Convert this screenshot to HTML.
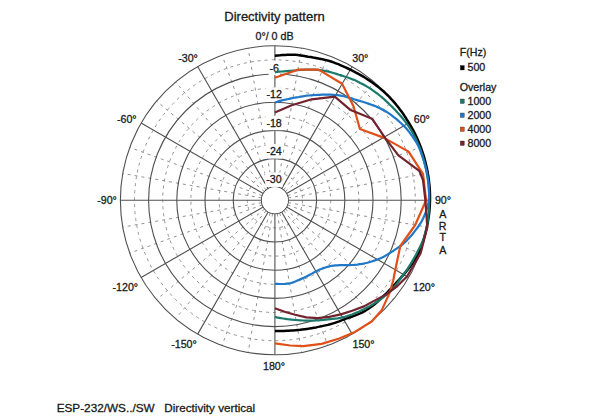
<!DOCTYPE html>
<html><head><meta charset="utf-8">
<style>
html,body{margin:0;padding:0;background:#fff;}
body{width:600px;height:419px;overflow:hidden;position:relative;font-family:"Liberation Sans",sans-serif;color:#222;}
svg{position:absolute;left:0;top:0;}
.s{fill:none;stroke:#505050;stroke-width:1.1;}
.d{fill:none;stroke:#929292;stroke-width:1;stroke-dasharray:3 4;}
.c{fill:none;stroke-width:2.2;stroke-linejoin:round;stroke-linecap:butt;}
.t{font-family:"Liberation Sans",sans-serif;fill:#1a1a1a;stroke:#1a1a1a;stroke-width:0.3;}
</style></head><body>
<svg width="600" height="419" viewBox="0 0 600 419">
<circle cx="274.9" cy="200.3" r="27.60" class="d"/>
<circle cx="274.9" cy="200.3" r="55.80" class="d"/>
<circle cx="274.9" cy="200.3" r="84.00" class="d"/>
<circle cx="274.9" cy="200.3" r="112.20" class="d"/>
<circle cx="274.9" cy="200.3" r="140.40" class="d"/>
<line x1="277.24" y1="187.01" x2="301.73" y2="48.15" class="d"/>
<line x1="279.52" y1="187.61" x2="327.74" y2="55.12" class="d"/>
<line x1="283.58" y1="189.96" x2="374.21" y2="81.95" class="d"/>
<line x1="285.24" y1="191.62" x2="393.25" y2="100.99" class="d"/>
<line x1="287.59" y1="195.68" x2="420.08" y2="147.46" class="d"/>
<line x1="288.19" y1="197.96" x2="427.05" y2="173.47" class="d"/>
<line x1="288.19" y1="202.64" x2="427.05" y2="227.13" class="d"/>
<line x1="287.59" y1="204.92" x2="420.08" y2="253.14" class="d"/>
<line x1="285.24" y1="208.98" x2="393.25" y2="299.61" class="d"/>
<line x1="283.58" y1="210.64" x2="374.21" y2="318.65" class="d"/>
<line x1="279.52" y1="212.99" x2="327.74" y2="345.48" class="d"/>
<line x1="277.24" y1="213.59" x2="301.73" y2="352.45" class="d"/>
<line x1="272.56" y1="213.59" x2="248.07" y2="352.45" class="d"/>
<line x1="270.28" y1="212.99" x2="222.06" y2="345.48" class="d"/>
<line x1="266.22" y1="210.64" x2="175.59" y2="318.65" class="d"/>
<line x1="264.56" y1="208.98" x2="156.55" y2="299.61" class="d"/>
<line x1="262.21" y1="204.92" x2="129.72" y2="253.14" class="d"/>
<line x1="261.61" y1="202.64" x2="122.75" y2="227.13" class="d"/>
<line x1="261.61" y1="197.96" x2="122.75" y2="173.47" class="d"/>
<line x1="262.21" y1="195.68" x2="129.72" y2="147.46" class="d"/>
<line x1="264.56" y1="191.62" x2="156.55" y2="100.99" class="d"/>
<line x1="266.22" y1="189.96" x2="175.59" y2="81.95" class="d"/>
<line x1="270.28" y1="187.61" x2="222.06" y2="55.12" class="d"/>
<line x1="272.56" y1="187.01" x2="248.07" y2="48.15" class="d"/>
<circle cx="274.9" cy="200.3" r="13.50" class="s"/>
<circle cx="274.9" cy="200.3" r="41.70" class="s"/>
<circle cx="274.9" cy="200.3" r="69.90" class="s"/>
<circle cx="274.9" cy="200.3" r="98.10" class="s"/>
<circle cx="274.9" cy="200.3" r="126.30" class="s"/>
<circle cx="274.9" cy="200.3" r="154.50" class="s"/>
<line x1="274.90" y1="186.80" x2="274.90" y2="45.80" class="s"/>
<line x1="281.65" y1="188.61" x2="352.15" y2="66.50" class="s"/>
<line x1="286.59" y1="193.55" x2="408.70" y2="123.05" class="s"/>
<line x1="288.40" y1="200.30" x2="429.40" y2="200.30" class="s"/>
<line x1="286.59" y1="207.05" x2="408.70" y2="277.55" class="s"/>
<line x1="281.65" y1="211.99" x2="352.15" y2="334.10" class="s"/>
<line x1="274.90" y1="213.80" x2="274.90" y2="354.80" class="s"/>
<line x1="268.15" y1="211.99" x2="197.65" y2="334.10" class="s"/>
<line x1="263.21" y1="207.05" x2="141.10" y2="277.55" class="s"/>
<line x1="261.40" y1="200.30" x2="120.40" y2="200.30" class="s"/>
<line x1="263.21" y1="193.55" x2="141.10" y2="123.05" class="s"/>
<line x1="268.15" y1="188.61" x2="197.65" y2="66.50" class="s"/>
<circle cx="274.9" cy="200.3" r="13.0" fill="#fff"/>
<rect x="268.6" y="60.5" width="11.5" height="14.5" fill="#fff"/>
<text x="274.3" y="71.5" text-anchor="middle" class="t" font-size="10.67">-6</text>
<rect x="265.4" y="87.4" width="17.5" height="14.5" fill="#fff"/>
<text x="274.2" y="98.4" text-anchor="middle" class="t" font-size="10.67">-12</text>
<rect x="265.4" y="115.7" width="17.5" height="14.5" fill="#fff"/>
<text x="274.1" y="126.7" text-anchor="middle" class="t" font-size="10.67">-18</text>
<rect x="265.4" y="144.1" width="17.5" height="14.5" fill="#fff"/>
<text x="274.1" y="155.1" text-anchor="middle" class="t" font-size="10.67">-24</text>
<rect x="265.2" y="172.4" width="17.5" height="14.5" fill="#fff"/>
<text x="274.0" y="183.4" text-anchor="middle" class="t" font-size="10.67">-30</text>
<path d="M274.9,55.8 L277.4,55.5 L280.0,55.3 L282.5,55.0 L285.1,54.9 L287.6,54.8 L290.2,54.7 L292.8,54.7 L295.3,54.8 L297.9,55.0 L300.5,55.4 L303.0,55.8 L305.5,56.2 L308.1,56.7 L310.6,57.1 L313.1,57.6 L315.7,58.0 L318.3,58.4 L320.8,58.9 L323.4,59.5 L325.9,60.1 L328.5,60.8 L331.0,61.5 L333.5,62.4 L335.9,63.3 L338.3,64.2 L340.8,65.3 L343.2,66.3 L345.6,67.4 L347.9,68.5 L350.3,69.7 L352.7,70.9 L355.0,72.1 L357.4,73.3 L359.7,74.6 L362.0,75.9 L364.3,77.3 L366.5,78.7 L368.8,80.1 L371.0,81.6 L373.2,83.2 L375.3,84.8 L377.5,86.4 L379.6,88.1 L381.6,89.8 L383.7,91.5 L385.6,93.4 L387.6,95.2 L389.5,97.1 L391.3,99.1 L393.2,101.1 L394.9,103.1 L396.6,105.2 L398.3,107.3 L399.9,109.4 L401.5,111.6 L403.1,113.8 L404.6,116.1 L406.1,118.3 L407.5,120.6 L408.9,122.9 L410.3,125.2 L411.7,127.6 L413.0,129.9 L414.3,132.3 L415.5,134.7 L416.7,137.2 L417.8,139.7 L418.8,142.2 L419.8,144.7 L420.8,147.2 L421.7,149.8 L422.6,152.3 L423.4,154.9 L424.2,157.5 L424.9,160.1 L425.6,162.7 L426.2,165.4 L426.8,168.0 L427.4,170.7 L427.8,173.3 L428.3,176.0 L428.7,178.7 L429.0,181.4 L429.3,184.1 L429.6,186.8 L429.8,189.5 L429.9,192.2 L430.0,194.9 L430.0,197.6 L430.0,200.3 L429.9,203.0 L429.8,205.7 L429.6,208.4 L429.4,211.1 L429.1,213.8 L428.7,216.5 L428.3,219.1 L427.9,221.8 L427.4,224.5 L426.8,227.1 L426.2,229.7 L425.6,232.3 L424.9,234.9 L424.2,237.5 L423.4,240.1 L422.6,242.6 L421.7,245.2 L420.8,247.7 L419.9,250.2 L418.8,252.7 L417.7,255.1 L416.5,257.5 L415.1,259.8 L413.6,262.0 L411.9,264.2 L410.3,266.3 L408.6,268.4 L407.0,270.5 L405.3,272.6 L403.6,274.6 L401.8,276.6 L400.1,278.5 L398.3,280.5 L396.6,282.4 L394.9,284.3 L393.1,286.2 L391.4,288.1 L389.6,289.9 L387.9,291.8 L386.1,293.6 L384.2,295.4 L382.4,297.1 L380.6,298.9 L378.8,300.6 L376.9,302.3 L374.9,303.9 L373.0,305.4 L370.9,307.0 L368.9,308.4 L366.8,309.8 L364.7,311.1 L362.4,312.3 L360.1,313.4 L357.8,314.4 L355.4,315.3 L353.1,316.2 L350.7,317.0 L348.3,317.8 L346.0,318.7 L343.8,319.6 L341.5,320.4 L339.2,321.3 L337.0,322.1 L334.7,322.9 L332.4,323.6 L330.1,324.3 L327.8,324.9 L325.5,325.4 L323.1,325.9 L320.8,326.4 L318.5,326.9 L316.2,327.4 L313.9,327.8 L311.6,328.2 L309.3,328.6 L307.0,328.9 L304.7,329.2 L302.4,329.5 L300.1,329.8 L297.8,330.0 L295.5,330.2 L293.2,330.4 L290.9,330.5 L288.6,330.7 L286.3,330.8 L284.0,330.9 L281.7,331.0 L279.5,331.0 L277.2,331.0 L274.9,330.9" stroke="#000000" class="c" style="stroke-width:2.5"/>
<path d="M274.9,72.3 L277.1,72.0 L279.4,71.7 L281.7,71.5 L283.9,71.3 L286.2,71.1 L288.5,70.9 L290.8,70.8 L293.1,70.6 L295.5,70.4 L297.9,70.1 L300.2,69.9 L302.6,69.8 L305.1,69.7 L307.5,69.6 L309.9,69.6 L312.4,69.6 L314.8,69.7 L317.3,69.9 L319.7,70.1 L322.2,70.4 L324.6,70.8 L327.0,71.3 L329.4,71.9 L331.8,72.5 L334.2,73.2 L336.5,73.9 L338.9,74.7 L341.3,75.4 L343.7,76.2 L346.1,77.0 L348.5,77.8 L350.9,78.7 L353.3,79.6 L355.6,80.6 L357.9,81.7 L360.2,82.9 L362.5,84.0 L364.8,85.3 L367.0,86.6 L369.2,87.9 L371.4,89.3 L373.5,90.8 L375.6,92.3 L377.7,93.9 L379.7,95.5 L381.7,97.1 L383.7,98.8 L385.6,100.6 L387.5,102.4 L389.4,104.2 L391.3,106.0 L393.2,107.9 L395.0,109.8 L396.8,111.7 L398.6,113.7 L400.4,115.7 L402.1,117.7 L403.8,119.8 L405.4,121.9 L407.0,124.0 L408.5,126.2 L410.0,128.5 L411.4,130.7 L412.8,133.1 L414.0,135.4 L415.3,137.8 L416.4,140.2 L417.5,142.7 L418.6,145.1 L419.6,147.6 L420.6,150.1 L421.5,152.7 L422.3,155.2 L423.1,157.8 L423.8,160.4 L424.5,163.0 L425.2,165.6 L425.8,168.2 L426.3,170.9 L426.8,173.5 L427.3,176.2 L427.7,178.8 L428.1,181.5 L428.4,184.2 L428.6,186.9 L428.8,189.5 L429.0,192.2 L429.1,194.9 L429.2,197.6 L429.2,200.3 L429.2,203.0 L429.1,205.7 L429.0,208.4 L428.8,211.1 L428.6,213.7 L428.3,216.4 L428.0,219.1 L427.6,221.8 L427.2,224.4 L426.7,227.1 L426.2,229.7 L425.6,232.3 L424.9,234.9 L424.1,237.5 L423.2,240.0 L422.1,242.5 L420.9,244.9 L419.7,247.4 L418.5,249.8 L417.3,252.1 L416.1,254.5 L414.8,256.8 L413.5,259.1 L412.2,261.4 L410.8,263.7 L409.4,265.9 L408.0,268.1 L406.5,270.3 L405.0,272.4 L403.5,274.5 L402.0,276.7 L400.5,278.8 L398.9,280.8 L397.4,282.9 L395.8,284.9 L394.1,286.9 L392.4,288.9 L390.7,290.8 L388.8,292.6 L386.9,294.3 L384.9,296.0 L382.9,297.6 L380.8,299.1 L378.7,300.6 L376.6,302.0 L374.4,303.4 L372.2,304.7 L370.0,306.0 L367.8,307.2 L365.6,308.4 L363.3,309.5 L361.1,310.6 L358.8,311.7 L356.5,312.6 L354.2,313.6 L351.9,314.5 L349.6,315.3 L347.2,316.1 L344.9,316.8 L342.5,317.4 L340.1,317.9 L337.7,318.3 L335.2,318.6 L332.7,318.9 L330.3,319.1 L327.9,319.4 L325.6,319.7 L323.2,320.0 L320.9,320.2 L318.6,320.4 L316.3,320.5 L314.0,320.6 L311.7,320.7 L309.4,320.7 L307.1,320.6 L304.9,320.6 L302.6,320.5 L300.4,320.3 L298.2,320.2 L296.0,320.0 L293.8,319.8 L291.7,319.6 L289.5,319.3 L287.4,319.1 L285.3,318.8 L283.2,318.5 L281.1,318.2 L279.0,317.8 L276.9,317.4 L274.9,316.9" stroke="#1b7a6c" class="c"/>
<path d="M274.9,102.6 L276.6,102.0 L278.4,101.4 L280.1,100.9 L281.9,100.4 L283.7,100.0 L285.5,99.6 L287.3,99.2 L289.2,98.8 L291.0,98.4 L292.9,98.0 L294.8,97.7 L296.8,97.3 L298.8,97.0 L300.8,96.6 L302.8,96.3 L304.8,96.0 L306.9,95.7 L309.0,95.5 L311.1,95.3 L313.2,95.1 L315.3,95.0 L317.5,94.9 L319.7,94.8 L321.9,94.7 L324.1,94.7 L326.4,94.7 L328.7,94.7 L331.0,94.7 L333.4,94.8 L335.7,95.0 L338.0,95.2 L340.3,95.6 L342.6,96.0 L344.9,96.5 L347.2,97.1 L349.4,97.7 L351.7,98.4 L353.9,99.2 L356.2,99.9 L358.6,100.6 L361.0,101.3 L363.4,102.0 L365.8,102.8 L368.3,103.6 L370.7,104.5 L373.2,105.4 L375.7,106.3 L378.1,107.4 L380.5,108.5 L382.9,109.7 L385.2,111.0 L387.4,112.4 L389.6,113.9 L391.7,115.4 L393.8,117.1 L395.9,118.7 L397.9,120.4 L399.9,122.2 L401.9,124.0 L403.8,125.9 L405.7,127.8 L407.4,129.8 L409.1,131.9 L410.7,134.1 L412.3,136.2 L413.8,138.5 L415.2,140.7 L416.7,143.0 L418.0,145.4 L419.1,147.8 L420.2,150.3 L421.1,152.8 L422.0,155.3 L422.8,157.9 L423.7,160.4 L424.5,163.0 L425.2,165.6 L425.9,168.2 L426.6,170.8 L427.1,173.5 L427.6,176.1 L428.0,178.8 L428.4,181.5 L428.7,184.1 L428.9,186.8 L429.0,189.5 L429.1,192.2 L429.1,194.9 L429.0,197.6 L428.7,200.3 L428.3,203.0 L427.7,205.6 L427.0,208.3 L426.2,210.9 L425.3,213.5 L424.2,216.0 L423.1,218.5 L421.8,221.0 L420.4,223.4 L418.9,225.7 L417.3,228.0 L415.6,230.2 L413.9,232.4 L412.2,234.5 L410.4,236.6 L408.6,238.6 L406.7,240.6 L404.7,242.5 L402.6,244.3 L400.4,246.0 L398.1,247.6 L395.8,249.2 L393.6,250.7 L391.3,252.1 L389.1,253.5 L386.8,254.9 L384.6,256.2 L382.2,257.4 L379.8,258.5 L377.4,259.5 L374.9,260.4 L372.4,261.2 L369.9,262.0 L367.4,262.7 L364.8,263.3 L362.3,263.8 L359.8,264.2 L357.2,264.6 L354.6,264.8 L352.0,265.0 L349.4,265.1 L346.9,265.1 L344.5,265.2 L342.1,265.2 L339.8,265.2 L337.6,265.3 L335.6,265.4 L333.7,265.6 L331.9,265.8 L330.2,266.2 L328.6,266.6 L327.0,267.0 L325.5,267.5 L324.0,267.9 L322.6,268.4 L321.2,269.0 L319.9,269.5 L318.5,270.1 L317.2,270.8 L316.0,271.4 L314.7,272.1 L313.4,272.7 L312.2,273.4 L310.9,274.1 L309.6,274.8 L308.4,275.5 L307.1,276.1 L305.8,276.8 L304.5,277.4 L303.2,278.0 L301.9,278.6 L300.5,279.1 L299.2,279.7 L297.8,280.3 L296.5,280.9 L295.2,281.5 L293.8,282.1 L292.4,282.6 L291.0,283.0 L289.5,283.3 L288.1,283.6 L286.6,283.7 L285.2,283.9 L283.7,284.0 L282.2,284.0 L280.8,284.0 L279.3,284.0 L277.8,283.9 L276.4,283.9 L274.9,283.8" stroke="#1f78c8" class="c"/>
<path d="M274.9,77.8 L297.9,69.7 L318.6,69.6 L342.1,83.8 L353.6,106.5 L359.9,129.0 L383.6,137.6 L408.6,151.6 L423.1,174.2 L426.1,200.3 L415.2,225.0 L400.3,246.0 L395.3,269.8 L393.3,280.2 L389.5,293.1 L381.9,309.9 L371.7,321.5 L354.9,331.9 L339.3,338.5 L321.6,343.9 L303.3,346.2 L290.2,345.5 L274.9,343.3" stroke="#e2501a" class="c"/>
<path d="M274.9,112.6 L291.7,105.3 L311.7,99.3 L334.8,96.6 L350.6,110.1 L372.1,118.7 L384.5,137.1 L398.4,155.4 L419.3,170.9 L423.0,180.0 L425.4,200.3 L427.3,227.2 L420.6,253.3 L407.0,276.5 L397.4,286.0 L386.7,294.1 L375.0,300.4 L363.9,306.4 L352.2,310.7 L340.8,314.4 L329.2,316.8 L317.8,318.2 L306.3,317.4 L295.1,314.8 L284.6,311.7 L274.9,308.3" stroke="#72242e" class="c"/>
<g class="t" font-size="10.67">
<text x="274.5" y="21" font-size="13" text-anchor="middle">Directivity pattern</text>
<text x="274.5" y="39.6" text-anchor="middle">0°/ 0 dB</text>
<text x="188" y="62" text-anchor="middle">-30°</text>
<text x="360.3" y="62" text-anchor="middle">30°</text>
<text x="126.8" y="122.8" text-anchor="middle">-60°</text>
<text x="421.8" y="122.5" text-anchor="middle">60°</text>
<text x="107" y="204" text-anchor="middle">-90°</text>
<text x="443" y="204" text-anchor="middle">90°</text>
<text x="125.3" y="291.2" text-anchor="middle">-120°</text>
<text x="424" y="291" text-anchor="middle">120°</text>
<text x="184" y="348.2" text-anchor="middle">-150°</text>
<text x="363.5" y="348.2" text-anchor="middle">150°</text>
<text x="274" y="369.5" text-anchor="middle">180°</text>
<text x="442.7" y="217.5" text-anchor="middle">A</text>
<text x="442.7" y="229.9" text-anchor="middle">R</text>
<text x="442.7" y="241.1" text-anchor="middle">T</text>
<text x="442.7" y="253.6" text-anchor="middle">A</text>
<text x="459.7" y="55.8">F(Hz)</text>
<rect x="460.3" y="65.5" width="4" height="4.5" fill="#000"/>
<text x="467.5" y="70.8">500</text>
<text x="459.7" y="90.5">Overlay</text>
<rect x="460.3" y="99" width="4" height="4.5" fill="#1b7a6c"/>
<text x="467.5" y="104.8">1000</text>
<rect x="460.3" y="113" width="4" height="4.5" fill="#1f78c8"/>
<text x="467.5" y="118.8">2000</text>
<rect x="460.3" y="127" width="4" height="4.5" fill="#e2501a"/>
<text x="467.5" y="132.8">4000</text>
<rect x="460.3" y="141" width="4" height="4.5" fill="#72242e"/>
<text x="467.5" y="146.8">8000</text>
<text x="56.7" y="411.7" font-size="11.75">ESP-232/WS../SW</text>
<text x="164.3" y="411.7" font-size="11.7">Directivity vertical</text>
</g>
</svg>
</body></html>
